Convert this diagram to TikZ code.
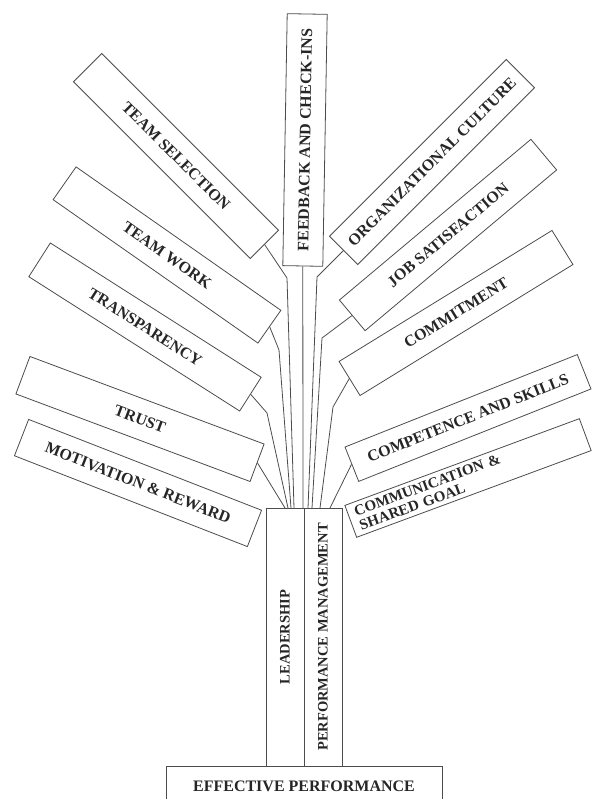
\documentclass[tikz,border=0pt]{standalone}
\usepackage{fontspec}
\setmainfont{Liberation Serif}
\usepackage{tikz}
\usetikzlibrary{positioning}

\begin{document}
\begin{tikzpicture}[x=1pt,y=1pt,
    leaf/.style={draw=black!70,line width=0.8pt,fill=white,inner sep=1pt,
      minimum width=250pt,minimum height=40pt,text=black!85,
      font=\fontsize{16}{15}\selectfont\bfseries},
    stem/.style={draw=black!70,line width=0.8pt,inner sep=1pt,rotate=90,
      minimum width=258pt,minimum height=38pt,text=black!85,
      font=\fontsize{14.5}{15}\selectfont\bfseries},
    twig/.style={draw=black!70,line width=0.8pt}]
  \useasboundingbox (0,0) rectangle (593,799);
  \clip (0,0) rectangle (593,799);

  % trunk and base
  \node[stem] (leadership) at (285,162) {LEADERSHIP};
  \node[stem] (perfmgmt) at (323,162) {PERFORMANCE MANAGEMENT};
  \node[leaf,minimum width=276pt] (effective) at (304,13) {EFFECTIVE PERFORMANCE};

  % branches
  \node[leaf,rotate=89,minimum width=252pt] (feedback) at (305,659) {FEEDBACK AND CHECK-INS};
  \node[leaf,rotate=-45] (teamsel) at (176,643) {TEAM SELECTION};
  \node[leaf,rotate=-35] (teamwork) at (167,544) {TEAM WORK\hspace{20pt}};
  \node[leaf,rotate=-32.5] (transparency) at (145,472) {TRANSPARENCY};
  \node[leaf,rotate=-20.5] (trust) at (140,380) {TRUST\hspace{22pt}};
  \node[leaf,rotate=-21.3,minimum height=39pt] (motivation) at (138,316) {MOTIVATION \& REWARD};
  \node[leaf,rotate=45] (culture) at (432,637) {ORGANIZATIONAL CULTURE};
  \node[leaf,rotate=40] (satisfaction) at (448,564) {JOB SATISFACTION\hspace{28pt}};
  \node[leaf,rotate=31.6] (commitment) at (456,486) {COMMITMENT\hspace{24pt}};
  \node[leaf,rotate=21.7,minimum height=37pt] (competence) at (468,381) {COMPETENCE AND SKILLS};
  \node[leaf,rotate=20.3,minimum height=34pt,align=left,text width=236pt,
    font=\fontsize{15}{15}\selectfont\bfseries] (communication) at (468,321)
    {COMMUNICATION \&\\SHARED GOAL};

  % where the twigs meet the trunk
  \coordinate (top-trust) at (285,291);
  \coordinate (top-transparency) at (288,291);
  \coordinate (top-teamwork) at (291,291);
  \coordinate (top-teamsel) at (294,291);
  \coordinate (top-feedback) at (303,291);
  \coordinate (top-culture) at (308,291);
  \coordinate (top-satisfaction) at (312,291);
  \coordinate (top-commitment) at (320,291);
  \coordinate (top-competence) at (330,291);

  \draw[twig] (teamsel.east) -- (287,521) -- (top-teamsel);
  \draw[twig] (teamwork.east) -- (279,449) -- (top-teamwork);
  \draw[twig] (transparency.east) -- (267,386) -- (top-transparency);
  \draw[twig] (trust.east) -- (top-trust);
  \draw[twig] (feedback.west) -- (top-feedback);
  \draw[twig] (culture.west) -- (317,522) -- (top-culture);
  \draw[twig] (satisfaction.west) -- (322,461) -- (top-satisfaction);
  \draw[twig] (commitment.west) -- (333,392) -- (top-commitment);
  \draw[twig] (competence.west) -- (top-competence);
\end{tikzpicture}
\end{document}
